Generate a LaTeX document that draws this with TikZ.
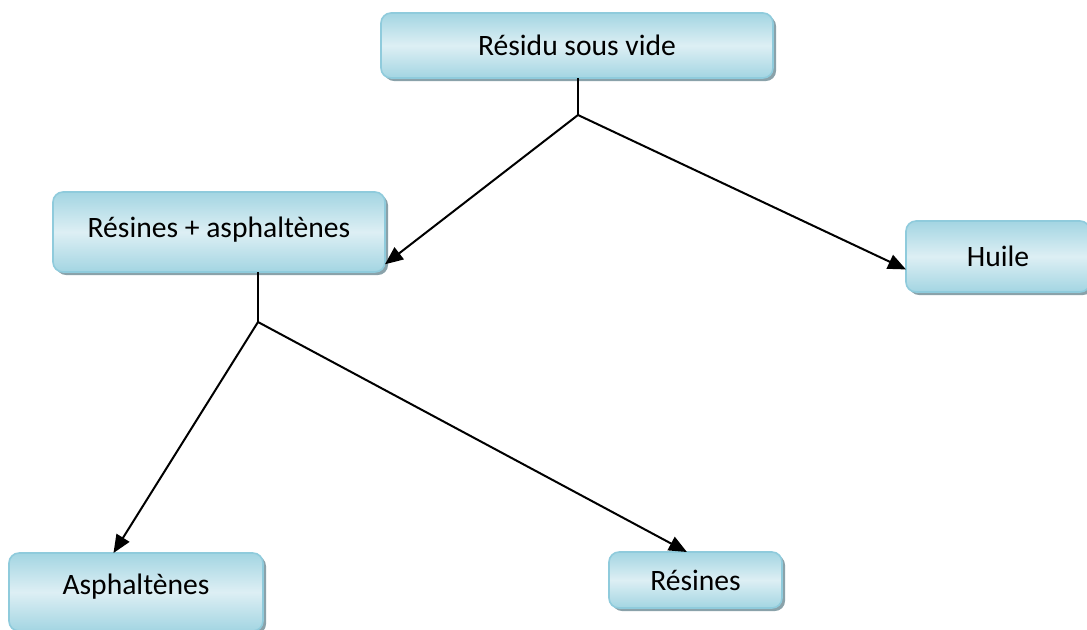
\documentclass[tikz,border=0pt]{standalone}
\usepackage{fontspec}
\setmainfont{Carlito}
\usetikzlibrary{
    arrows.meta,
    shadows,
    positioning
}
\definecolor{boxedge}{HTML}{8FCBDC}
\definecolor{boxdark}{HTML}{A3D5E2}
\definecolor{boxlight}{HTML}{DDEFF4}
\definecolor{boxshadow}{HTML}{8AA2AA}
\tikzset{
    stage/.style={draw=boxedge, line width=0.8pt, rounded corners=5pt,
        top color=boxdark, bottom color=boxdark, middle color=boxlight,
        drop shadow={shadow xshift=1.5pt, shadow yshift=-1.5pt, fill=boxshadow, opacity=1},
        inner sep=0pt, outer sep=0pt,
        font=\fontsize{14.8}{17}\selectfont},
    flow/.style={line width=1pt, -{Triangle[length=9pt,width=7.5pt]}}
}

\begin{document}
\begin{tikzpicture}[x=0.5pt, y=-0.5pt]
    \useasboundingbox (0, 0) rectangle (1087, 629);
    \node[stage, minimum width=196pt, minimum height=32.5pt] (vac) at (577, 45.5) {Résidu sous vide};
    \node[stage, minimum width=166pt, minimum height=40pt, text depth=5pt] (ra) at (219, 232) {Résines + asphaltènes};
    \node[stage, minimum width=92pt, minimum height=35.5pt] (oil) at (998, 256.5) {Huile};
    \node[stage, minimum width=127pt, minimum height=39pt, text depth=8pt] (asph) at (136, 592) {Asphaltènes};
    \node[stage, minimum width=86.5pt, minimum height=28pt] (res) at (695.5, 580) {Résines};
    \coordinate (j1) at (578, 115);
    \coordinate (j2) at (258, 322);
    \draw[line width=1pt] (vac.south -| j1) -- (j1);
    \draw[line width=1pt] (ra.south -| j2) -- (j2);
    \draw
    (j1) edge[flow] (ra.-11)
    (j1) edge[flow] (oil.188)
    (j2) edge[flow] (asph.120)
    (j2) edge[flow] (res.107);
\end{tikzpicture}
\end{document}
